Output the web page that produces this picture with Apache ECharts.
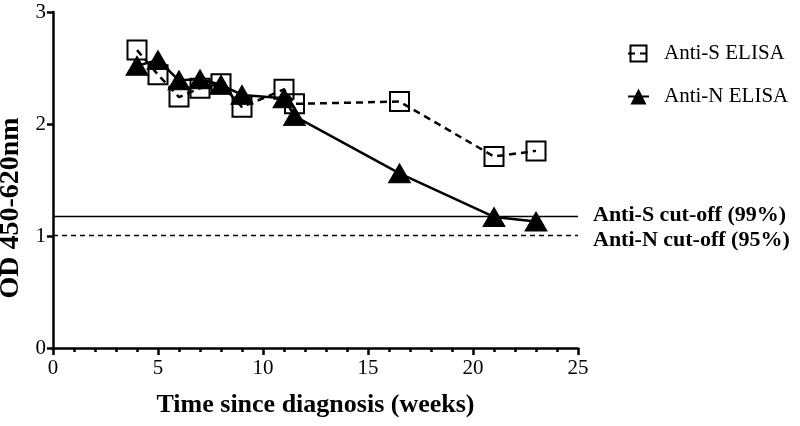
<!DOCTYPE html>
<html><head><meta charset="utf-8">
<script src="https://cdn.jsdelivr.net/npm/echarts@6/dist/echarts.min.js"></script>
<style>html,body{margin:0;padding:0;background:#fff}#c{width:800px;height:426px}</style>
</head><body><div id="c"></div>
<script>
var weeks = [4, 5, 6, 7, 8, 9, 11, 11.5, 16.5, 21, 23];
var antiS = [2.66, 2.44, 2.24, 2.32, 2.36, 2.15, 2.31, 2.18, 2.20, 1.71, 1.76];
var antiN = [2.52, 2.57, 2.39, 2.40, 2.35, 2.26, 2.23, 2.07, 1.56, 1.17, 1.13];
var cutS = 1.18, cutN = 1.01;
var seriesNames = ['Anti-S ELISA', 'Anti-N ELISA'];
var cutLabels = ['Anti-S cut-off (99%)', 'Anti-N cut-off (95%)'];

var serif = '"Liberation Serif","DejaVu Serif",serif';
function pairs(xs, ys){ return xs.map(function(x,i){return [x, ys[i]];}); }

var chart = echarts.init(document.getElementById('c'));
chart.setOption({
  animation: false,
  grid: {left: 53, right: 222, top: 12, bottom: 78, outerBoundsMode: 'none', containLabel: false},
  legend: {
    orient: 'vertical', left: 622, top: 38, itemGap: 22,
    itemWidth: 21, itemHeight: 20,
    textStyle: {fontFamily: serif, fontSize: 21, color: '#000', padding: [0, 0, 0, 10]},
    data: seriesNames
  },
  xAxis: {
    type: 'value', min: 0, max: 25, interval: 5,
    name: 'Time since diagnosis (weeks)', nameLocation: 'middle', nameGap: 44,
    nameTextStyle: {fontFamily: serif, fontSize: 26, fontWeight: 'bold', color: '#000'},
    axisLine: {lineStyle: {color: '#000', width: 2.5}},
    axisTick: {length: 7, lineStyle: {width: 2.5, color: '#000'}},
    minorTick: {show: true, splitNumber: 5, length: 4, lineStyle: {width: 2.5, color: '#000'}},
    axisLabel: {fontFamily: serif, fontSize: 21, color: '#000', margin: 10},
    splitLine: {show: false}
  },
  yAxis: {
    type: 'value', min: 0, max: 3, interval: 1,
    name: 'OD 450-620nm', nameLocation: 'middle', nameGap: 25,
    nameTextStyle: {fontFamily: serif, fontSize: 28, fontWeight: 'bold', color: '#000', padding: [0, 56, 0, 0]},
    axisLine: {show: true, lineStyle: {color: '#000', width: 2.5}},
    axisTick: {show: true, length: 6, lineStyle: {width: 2.5, color: '#000'}},
    axisLabel: {fontFamily: serif, fontSize: 21, color: '#000', margin: 7},
    splitLine: {show: false}
  },
  series: [
    {
      name: seriesNames[0], type: 'line', data: pairs(weeks, antiS),
      symbol: 'rect', symbolSize: 19,
      lineStyle: {color: '#000', width: 2.5, type: [7, 5]},
      itemStyle: {color: 'rgba(255,255,255,0)', borderColor: '#000', borderWidth: 2},
      z: 3,
      markLine: {
        silent: true, symbol: 'none',
        data: [
          {yAxis: cutS, lineStyle: {type: 'solid', color: '#000', width: 1.4},
           label: {formatter: cutLabels[0], offset: [0, -1]}},
          {yAxis: cutN, lineStyle: {type: [5, 4], color: '#000', width: 1.4},
           label: {formatter: cutLabels[1], offset: [0, 5]}}
        ],
        label: {position: 'end', distance: 15, fontFamily: serif, fontSize: 22, fontWeight: 'bold', color: '#000'}
      }
    },
    {
      name: seriesNames[1], type: 'line', data: pairs(weeks, antiN),
      symbol: 'triangle', symbolSize: [22, 19],
      lineStyle: {color: '#000', width: 2.5},
      itemStyle: {color: '#000', borderColor: '#000'},
      z: 4
    }
  ]
});
</script></body></html>
